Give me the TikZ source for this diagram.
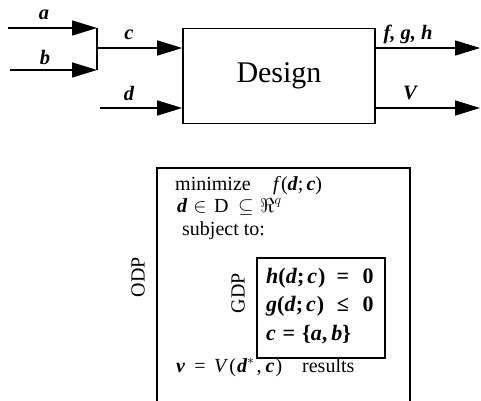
\RequirePackage{fix-cm}
\documentclass[tikz,border=0pt]{standalone}
\usepackage{fontspec}
\setmainfont{Liberation Serif}
\usetikzlibrary{arrows.meta}
\newcommand{\bi}[1]{\textbf{\textit{#1}}}
\newcommand{\lowbox}[1]{\raisebox{0pt}[0.5em][0pt]{#1}}
\begin{document}
\begin{tikzpicture}[x=1pt,y=-1pt,
  ln/.style={line width=1.6pt},
  arr/.style={line width=1.6pt,-{Triangle[length=25pt,width=15pt]}},
  lab/.style={font=\fontsize{20.5}{24}\selectfont\bfseries\itshape, inner sep=0},
  txt/.style={font=\fontsize{20}{24}\selectfont, inner sep=0, anchor=base west},
  btxt/.style={txt, font=\fontsize{22}{26}\selectfont\bfseries},
  side/.style={font=\fontsize{20}{24}\selectfont, inner sep=0, rotate=90},
]
\useasboundingbox (0,0) rectangle (481,400);
% top block diagram
\node[draw, line width=1.6pt, minimum width=192pt, minimum height=95pt, inner sep=0,
      font=\fontsize{30}{34}\selectfont] (design) at (279,76) {Design};
\coordinate (a0) at (8,28);
\coordinate (a1) at (97,28);
\coordinate (b0) at (10,70);
\coordinate (b1) at (97,70);
\coordinate (j) at (97,48);
\coordinate (d0) at (100,108);
\coordinate (fe) at (480,48);
\coordinate (ve) at (480,108);
\draw[arr] (a0) -- (a1);
\draw[arr] (b0) -- (b1);
\draw[ln] (a1) -- (b1);
\draw[arr] (j) -- (j -| design.west);
\draw[arr] (d0) -- (d0 -| design.west);
\draw[arr] (fe -| design.east) -- (fe);
\draw[arr] (ve -| design.east) -- (ve);
\node[lab] (la) at (44,15) {a};
\node[lab] (lb) at (45,57) {b};
\node[lab] (lc) at (129,35) {c};
\node[lab] (ld) at (129,93) {d};
\node[lab] (lf) at (408,34) {f, g, h};
\node[lab] (lv) at (410,93) {V};
% bottom ODP / GDP
\coordinate (o1) at (157,403);
\coordinate (o2) at (157,168);
\coordinate (o3) at (410,168);
\coordinate (o4) at (410,403);
\draw[ln] (o1) -- (o2) -- (o3) -- (o4);
\node[draw, line width=1.6pt, minimum width=128pt, minimum height=100pt, inner sep=0] (gdp) at (321,308) {};
\node[side] (odp) at (138,277) {ODP};
\node[side] (gdpl) at (238,293) {GDP};
% objective
\node[txt] (min) at (175,190) {minimize};
\node[txt] (fdc) at (273,190) {\textit{f}(\bi{d};\kern3pt\bi{c})};
% domain
\node[txt] (dd) at (177,212) {\bi{d}};
\node[txt, anchor=base] (din) at (200,212) {\lowbox{$\in$}};
\node[txt] (dD) at (214,212) {D};
\node[txt, anchor=base] (dsub) at (246,212) {\lowbox{$\subseteq$}};
\node[txt] (dR) at (260,212) {\lowbox{$\Re^{q}$}};
\node[txt] (st) at (182,235) {subject to:};
% GDP rows
\node[btxt] (hl) at (266,283) {\textit{h}(\textit{d};\kern3pt\textit{c}\kern1pt)};
\node[btxt, anchor=base] (heq) at (343,283) {=};
\node[btxt, anchor=base] (h0) at (368,283) {0};
\node[btxt] (gl) at (266,311) {\textit{g}(\textit{d};\kern3pt\textit{c}\kern1pt)};
\node[btxt, anchor=base] (gle) at (343,311) {≤};
\node[btxt, anchor=base] (g0) at (368,311) {0};
\node[btxt] (cl) at (266,340) {\textit{c}};
\node[btxt, anchor=base] (ceq) at (289,340) {=};
\node[btxt] (cs) at (302,340) {\{\textit{a},\kern4pt\textit{b}\}};
% result row
\node[txt] (vv) at (176,372) {\bi{v}};
\node[txt, anchor=base] (veq) at (200,372) {=};
\node[txt] (vV) at (214,372) {\textit{V}\kern1pt(\kern1pt\bi{d}$^{*}$\kern2pt,\kern4pt\bi{c}\kern1pt)};
\node[txt] (res) at (302,372) {results};
\end{tikzpicture}
\end{document}
